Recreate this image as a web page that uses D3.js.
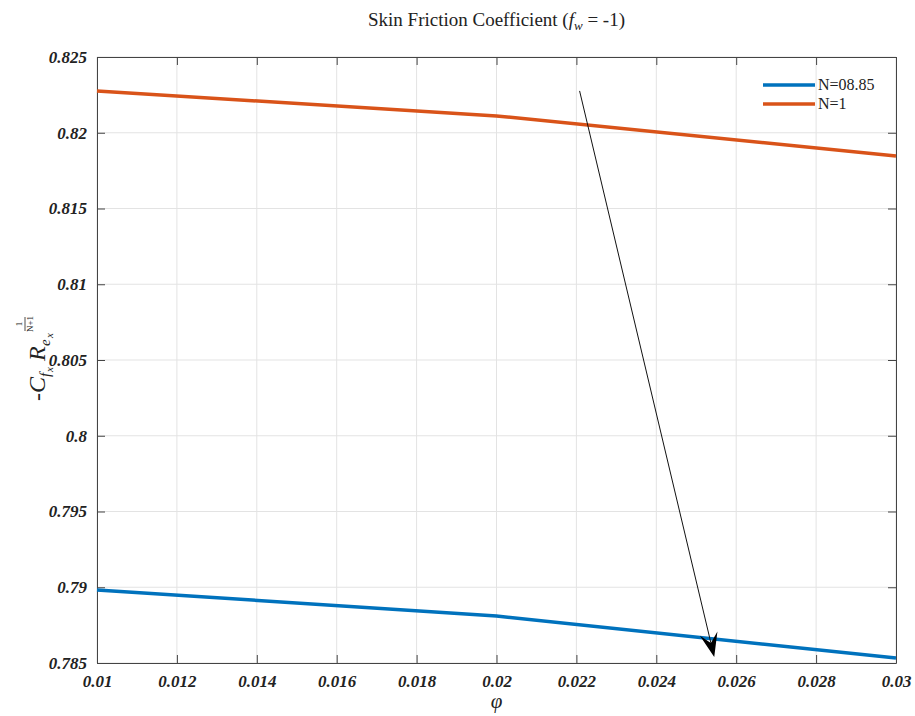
<!DOCTYPE html>
<html>
<head>
<meta charset="utf-8">
<script src="https://cdn.jsdelivr.net/npm/d3@7"></script>
<style>
  body { margin: 0; background: #fff; }
  svg text { font-family: "Liberation Serif", "DejaVu Serif", serif; }
  .tick text { font-weight: bold; font-style: italic; font-size: 17px; fill: #222; }
</style>
</head>
<body>
<svg id="chart"></svg>
<script>
// Data
const phi = [0.01, 0.02, 0.03];
const cfN0885 = [0.78982, 0.7881, 0.78533];
const cfN1 = [0.82276, 0.82111, 0.81847];
const seriesNames = ["N=08.85", "N=1"];
const xTicks = [0.01, 0.012, 0.014, 0.016, 0.018, 0.02, 0.022, 0.024, 0.026, 0.028, 0.03];
const yTicks = [0.785, 0.79, 0.795, 0.8, 0.805, 0.81, 0.815, 0.82, 0.825];
const arrowFrom = [0.02208, 0.82276];
const arrowTo = [0.02545, 0.7854];

const width = 915, height = 716;
const mLeft = 97, mRight = 896, mTop = 57, mBottom = 663;

const svg = d3.select("#chart").attr("width", width).attr("height", height);

const x = d3.scaleLinear().domain([0.01, 0.03]).range([mLeft, mRight]);
const y = d3.scaleLinear().domain([0.785, 0.825]).range([mBottom, mTop]);

// Grid
svg.append("g").selectAll("line").data(xTicks).join("line")
  .attr("x1", d => x(d)).attr("x2", d => x(d))
  .attr("y1", mTop).attr("y2", mBottom)
  .attr("stroke", "#e3e3e3").attr("stroke-width", 1);
svg.append("g").selectAll("line").data(yTicks).join("line")
  .attr("x1", mLeft).attr("x2", mRight)
  .attr("y1", d => y(d)).attr("y2", d => y(d))
  .attr("stroke", "#e3e3e3").attr("stroke-width", 1);

// Axes (ticks inward)
const fmt = d => String(+d.toFixed(4));
svg.append("g")
  .attr("transform", `translate(0,${mBottom})`)
  .call(d3.axisBottom(x).tickValues(xTicks).tickFormat(fmt).tickSizeInner(-8).tickSizeOuter(0).tickPadding(12))
  .call(g => g.select(".domain").attr("stroke", "#444"))
  .call(g => g.selectAll(".tick line").attr("stroke", "#444"));
svg.append("g")
  .attr("transform", `translate(${mLeft},0)`)
  .call(d3.axisLeft(y).tickValues(yTicks).tickFormat(fmt).tickSizeInner(-8).tickSizeOuter(0).tickPadding(10))
  .call(g => g.select(".domain").attr("stroke", "#444"))
  .call(g => g.selectAll(".tick line").attr("stroke", "#444"));
// Top and right box with ticks
svg.append("g")
  .attr("transform", `translate(0,${mTop})`)
  .call(d3.axisTop(x).tickValues(xTicks).tickFormat("").tickSizeInner(-8).tickSizeOuter(0))
  .call(g => g.selectAll("path, line").attr("stroke", "#444"));
svg.append("g")
  .attr("transform", `translate(${mRight},0)`)
  .call(d3.axisRight(y).tickValues(yTicks).tickFormat("").tickSizeInner(-8).tickSizeOuter(0))
  .call(g => g.selectAll("path, line").attr("stroke", "#444"));

// Lines
const line = d3.line().x(d => x(d[0])).y(d => y(d[1]));
const colors = ["#0072BD", "#D95319"];
[cfN0885, cfN1].forEach((vals, i) => {
  svg.append("path")
    .datum(phi.map((p, j) => [p, vals[j]]))
    .attr("fill", "none")
    .attr("stroke", colors[i])
    .attr("stroke-width", 3.5)
    .attr("d", line);
});

// Arrow
const ax1 = x(arrowFrom[0]), ay1 = y(arrowFrom[1]);
const ax2 = x(arrowTo[0]), ay2 = y(arrowTo[1]);
const ang = Math.atan2(ay2 - ay1, ax2 - ax1);
const hl = 24, hw = 9;
svg.append("line")
  .attr("x1", ax1).attr("y1", ay1)
  .attr("x2", ax2 - Math.cos(ang) * 10).attr("y2", ay2 - Math.sin(ang) * 10)
  .attr("stroke", "#111").attr("stroke-width", 1);
const bx = ax2 - Math.cos(ang) * hl, by = ay2 - Math.sin(ang) * hl;
const px = -Math.sin(ang) * hw, py = Math.cos(ang) * hw;
svg.append("path")
  .attr("d", `M${ax2},${ay2} L${bx + px},${by + py} L${ax2 - Math.cos(ang) * hl * 0.6},${ay2 - Math.sin(ang) * hl * 0.6} L${bx - px},${by - py} Z`)
  .attr("fill", "#000");

// Legend
const legend = svg.append("g");
seriesNames.forEach((name, i) => {
  const ly = 85 + i * 19;
  legend.append("line")
    .attr("x1", 763).attr("x2", 815).attr("y1", ly).attr("y2", ly)
    .attr("stroke", colors[i]).attr("stroke-width", 3.5);
  legend.append("text")
    .attr("x", 818).attr("y", ly + 5)
    .attr("font-size", 16).attr("fill", "#222")
    .text(name);
});

// Title
const title = svg.append("text")
  .attr("x", (mLeft + mRight) / 2).attr("y", 26)
  .attr("text-anchor", "middle")
  .attr("font-size", 19).attr("fill", "#222");
title.append("tspan").text("Skin Friction Coefficient (");
title.append("tspan").attr("font-style", "italic").text("f");
title.append("tspan").attr("font-style", "italic").attr("font-size", 13).attr("dy", 4).text("w");
title.append("tspan").attr("dy", -4).text(" = -1)");

// X label
svg.append("text")
  .attr("x", (mLeft + mRight) / 2).attr("y", 708)
  .attr("text-anchor", "middle")
  .attr("font-size", 21).attr("font-style", "italic").attr("fill", "#222")
  .text("φ");

// Y label (rotated group, u runs upward along the label)
const yl = svg.append("g")
  .attr("transform", "translate(45,401) rotate(-90)")
  .attr("fill", "#222");
const yText = (u, v, s, size, italic) => yl.append("text")
  .attr("x", u).attr("y", v).attr("font-size", size)
  .attr("font-style", italic ? "italic" : "normal").text(s);
yText(0, 0, "-", 24, false);
yText(8, 0, "C", 24, true);
yText(24, 5, "f", 15, true);
yText(29, 8, "x", 11, true);
yText(40, 0, "R", 24, true);
yText(55, 5, "e", 15, true);
yText(63, 8, "x", 11, true);
yText(77, -23, "1", 9, false).attr("text-anchor", "middle");
yl.append("line").attr("x1", 70).attr("x2", 84).attr("y1", -20).attr("y2", -20)
  .attr("stroke", "#222").attr("stroke-width", 0.8);
yText(77, -12, "N+1", 9, false).attr("text-anchor", "middle");
</script>
</body>
</html>
